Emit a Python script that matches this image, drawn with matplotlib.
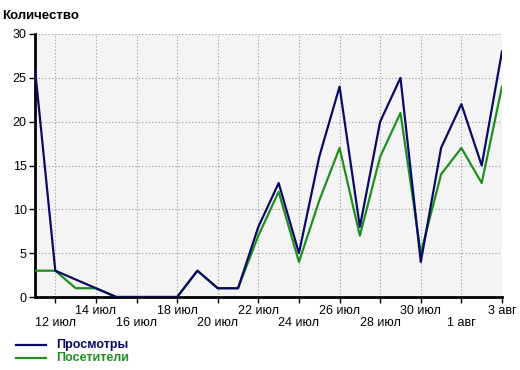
import matplotlib
matplotlib.use("Agg")
import matplotlib.pyplot as plt
from matplotlib.lines import Line2D

plt.rcParams['font.family'] = ['Liberation Sans', 'DejaVu Sans']

days = ["11 июл", "12 июл", "13 июл", "14 июл", "15 июл", "16 июл", "17 июл", "18 июл",
        "19 июл", "20 июл", "21 июл", "22 июл", "23 июл", "24 июл", "25 июл", "26 июл",
        "27 июл", "28 июл", "29 июл", "30 июл", "31 июл", "1 авг", "2 авг", "3 авг"]
views = [26, 3, 2, 1, 0, 0, 0, 0, 3, 1, 1, 8, 13, 5, 16, 24, 8, 20, 25, 4, 17, 22, 15, 28]
visitors = [3, 3, 1, 1, 0, 0, 0, 0, 3, 1, 1, 7, 12, 4, 11, 17, 7, 16, 21, 5, 14, 17, 13, 24]
yticks = [0, 5, 10, 15, 20, 25, 30]

blue = "#0a0a66"
green = "#1f8f1f"

fig = plt.figure(figsize=(5.2, 3.7), dpi=100)
ax = fig.add_axes([35/520, 1-297/370, (502-35)/520, (297-34)/370])
ax.set_facecolor("#f4f4f4")

x = list(range(len(days)))
ax.plot(x, visitors, color=green, lw=1.6, zorder=3)
ax.plot(x, views, color=blue, lw=1.6, zorder=4)

ax.set_xlim(0, len(days) - 1)
ax.set_ylim(0, 30)
ax.set_yticks(yticks)
ax.set_yticklabels([str(v) for v in yticks], fontsize=9)

tick_pos = x[1::2]
ax.set_xticks(tick_pos)
labels = []
for i, p in enumerate(tick_pos):
    lab = days[p]
    labels.append(lab if i % 2 == 1 else "\n" + lab)
ax.set_xticklabels(labels, fontsize=9, linespacing=0.95)
ax.tick_params(axis='both', direction='out', length=4, width=1, color='black', pad=2)

ax.grid(True, color="#999999", linestyle=(0, (1, 2)), lw=0.8)
ax.set_axisbelow(True)
for s in ['top', 'right']:
    ax.spines[s].set_visible(False)
ax.spines['left'].set_linewidth(2)
ax.spines['bottom'].set_linewidth(2)

fig.text(2/520, 1-16/370, "Количество", fontsize=9.5, fontweight='bold', va='center', ha='left')

# legend
for i, (name, col) in enumerate([("Просмотры", blue), ("Посетители", green)]):
    yy = 1 - (345 + i * 13) / 370
    fig.add_artist(Line2D([16/520, 46/520], [yy, yy], color=col, lw=1.6, transform=fig.transFigure))
    fig.text(56/520, yy, name, color=col, fontsize=9, fontweight='bold', va='center', ha='left')

fig.savefig("out.png", dpi=100)
